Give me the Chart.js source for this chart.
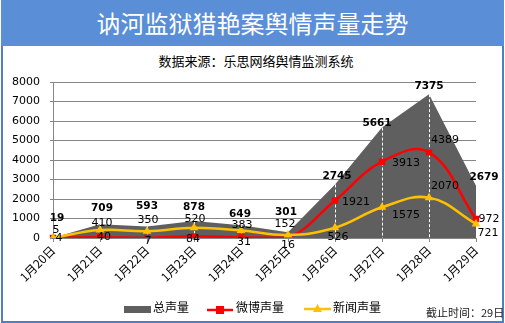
<!DOCTYPE html>
<html>
<head>
<meta charset="utf-8">
<script src="https://cdn.jsdelivr.net/npm/chart.js@4/dist/chart.umd.min.js"></script>
<style>
  html,body{margin:0;padding:0;background:#fff;}
  #wrap{position:relative;width:505px;height:323px;overflow:hidden;}
  #frame{position:absolute;left:1px;top:-2px;width:503px;height:325px;box-sizing:border-box;border:2px solid #4F7FC2;border-top:none;}
  #titlebar{position:absolute;left:1px;top:0;width:503px;height:46px;background:#5A8ED7;color:#fff;
    font:24px "Noto Sans CJK SC";line-height:46px;text-align:center;}
  #sub{position:absolute;left:0;top:51px;width:512px;text-align:center;font:13px "Noto Sans CJK SC";line-height:20px;color:#000;}
  #foot{position:absolute;left:426px;top:304px;font:11px "Noto Sans CJK SC";line-height:16px;color:#222;white-space:nowrap;}
  canvas{position:absolute;left:0;top:0;}
</style>
</head>
<body>
<div id="wrap">
  <div id="frame"></div>
  <div id="titlebar">讷河监狱猎艳案舆情声量走势</div>
  <div id="sub">数据来源：乐思网络舆情监测系统</div>
  <canvas id="c" width="505" height="323"></canvas>
  <div id="foot">截止时间：29日</div>
</div>
<script>
const categories = ["1月20日","1月21日","1月22日","1月23日","1月24日","1月25日","1月26日","1月27日","1月28日","1月29日"];
const totalVolume = [19,709,593,878,649,301,2745,5661,7375,2679];
const weiboVolume = [4,40,7,84,31,16,1921,3913,4389,972];
const newsVolume = [5,410,350,520,383,152,526,1575,2070,721];
const yTicks = [0,1000,2000,3000,4000,5000,6000,7000,8000];
const seriesNames = ["总声量","微博声量","新闻声量"];

// label offsets (px) relative to each point
const totalLabelOffsets = [[4,-19],[2,-16],[0,-20],[0,-14],[-1,-11],[-2,-20],[2,-8],[-5,-4],[0,-8],[8,-8]];
const weiboLabelOffsets = [[6,0],[4,0],[1,3],[-1,3],[3,5],[0,7],[21,2],[24,1],[16,-12],[13,0]];
const newsLabelOffsets = [[3,-8],[2,-7],[1,-11],[1,-9],[1,-5],[-3,-11],[3,9],[24,8],[16,-11],[12,9]];

const dropLines = {
  id:'dropLines',
  afterDatasetDraw(chart,args){
    if(args.index!==0) return;
    const ctx=chart.ctx, meta=args.meta, bottom=chart.chartArea.bottom;
    ctx.save();
    ctx.strokeStyle='#ffffff';
    ctx.lineWidth=1;
    ctx.setLineDash([3,2]);
    meta.data.forEach(p=>{
      ctx.beginPath();
      ctx.moveTo(Math.round(p.x)+0.5,p.y);
      ctx.lineTo(Math.round(p.x)+0.5,bottom);
      ctx.stroke();
    });
    ctx.restore();
  }
};

const dataLabels = {
  id:'dataLabels',
  afterDatasetsDraw(chart){
    const ctx=chart.ctx;
    const specs=[
      {i:0,off:totalLabelOffsets,font:'bold 10.5px "DejaVu Sans"'},
      {i:1,off:weiboLabelOffsets,font:'11px "DejaVu Sans"'},
      {i:2,off:newsLabelOffsets,font:'11px "DejaVu Sans"'}
    ];
    ctx.save();
    ctx.textAlign='center';
    ctx.textBaseline='middle';
    ctx.fillStyle='#000';
    specs.forEach(s=>{
      const meta=chart.getDatasetMeta(s.i);
      const vals=chart.data.datasets[s.i].data;
      ctx.font=s.font;
      meta.data.forEach((p,k)=>{
        ctx.fillText(String(vals[k]),p.x+s.off[k][0],p.y+s.off[k][1]);
      });
    });
    ctx.restore();
  }
};

const customLegend = {
  id:'customLegend',
  afterDraw(chart){
    const ctx=chart.ctx;
    const ds=chart.data.datasets;
    ctx.save();
    ctx.font='12px "Noto Sans CJK SC"';
    ctx.textBaseline='middle';
    ctx.fillStyle='#000';
    const y=309;
    ctx.fillStyle='#5F5F5F';
    ctx.fillRect(124,306,27,7);
    ctx.fillStyle='#000';
    ctx.fillText(ds[0].label,153,y-2);
    ctx.strokeStyle='#FF0000';ctx.lineWidth=2.5;
    ctx.beginPath();ctx.moveTo(207,y+1);ctx.lineTo(233,y+1);ctx.stroke();
    ctx.fillStyle='#FF0000';ctx.fillRect(216,y-3,8,8);
    ctx.fillStyle='#000';
    ctx.fillText(ds[1].label,236,y-2);
    ctx.strokeStyle='#FFC000';
    ctx.beginPath();ctx.moveTo(304,y);ctx.lineTo(331,y);ctx.stroke();
    ctx.fillStyle='#FFC000';
    ctx.beginPath();ctx.moveTo(317.5,y-5);ctx.lineTo(322,y+3);ctx.lineTo(313,y+3);ctx.closePath();ctx.fill();
    ctx.fillStyle='#000';
    ctx.fillText(ds[2].label,333,y-2);
    ctx.restore();
  }
};

new Chart(document.getElementById('c'),{
  type:'line',
  data:{
    labels:categories,
    datasets:[
      {label:seriesNames[0],data:totalVolume,fill:'origin',backgroundColor:'#5F5F5F',borderColor:'#5F5F5F',
       borderWidth:0,pointRadius:0,tension:0,order:3},
      {label:seriesNames[1],data:weiboVolume,borderColor:'#FF0000',backgroundColor:'#FF0000',borderWidth:2.5,
       pointStyle:'rect',pointRadius:4.5,pointBorderWidth:0,tension:0.4,fill:false,order:2},
      {label:seriesNames[2],data:newsVolume,borderColor:'#FFC000',backgroundColor:'#FFC000',borderWidth:2.5,
       pointStyle:'triangle',pointRadius:5,pointBorderWidth:0,tension:0.4,fill:false,order:1}
    ]
  },
  options:{
    responsive:false,
    animation:false,
    devicePixelRatio:1,
    layout:{padding:{top:82,left:0,right:29,bottom:25}},
    plugins:{legend:{display:false},tooltip:{enabled:false},title:{display:false}},
    scales:{
      x:{
        offset:false,
        grid:{display:true,drawOnChartArea:false,drawTicks:true,tickLength:4,color:'#868686'},
        border:{display:true,color:'#868686'},
        ticks:{autoSkip:false,minRotation:45,maxRotation:45,padding:1,color:'#000',font:{family:'"Noto Sans CJK SC"',size:12}},
        afterFit(s){s.height=60;}
      },
      y:{
        min:0,max:8000,
        afterBuildTicks(s){s.ticks=yTicks.map(v=>({value:v}));},
        grid:{color:'#868686',lineWidth:1,tickLength:3},
        border:{display:true,color:'#868686'},
        ticks:{padding:10,color:'#000',font:{family:'"DejaVu Sans"',size:11},callback:(v)=>String(v)},
        afterFit(s){s.width=53;}
      }
    }
  },
  plugins:[dropLines,dataLabels,customLegend]
});
</script>
</body>
</html>
